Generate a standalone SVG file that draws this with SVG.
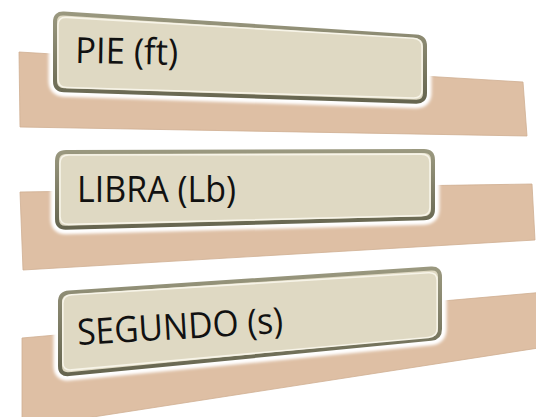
<svg xmlns="http://www.w3.org/2000/svg" width="536" height="417" viewBox="0 0 536 417">
  <defs>
    <filter id="glow" x="-10%" y="-30%" width="120%" height="160%">
      <feGaussianBlur stdDeviation="1.6"/>
    </filter>
    <linearGradient id="rim" x1="0" y1="0" x2="0" y2="1">
      <stop offset="0" stop-color="#9A987F"/>
      <stop offset="1" stop-color="#66654F"/>
    </linearGradient>
  </defs>
  <style>
    .band { fill: #DEBFA4; stroke: #CFAE92; stroke-width: 0.8; }
    .halo { fill: #FFFFFF; stroke: #FFFFFF; stroke-width: 13; stroke-linejoin: round; filter: url(#glow); }
    .rim { fill: #DFD9C3; stroke: url(#rim); stroke-width: 4; stroke-linejoin: round; }
    .face { fill: #DFD9C3; stroke: #F7F4E8; stroke-width: 1.6; vector-effect: non-scaling-stroke; }
    .label { font-family: "Open Sans", "Noto Sans", "Liberation Sans", sans-serif; font-size: 36px; fill: #111111; }
  </style>
  <rect width="536" height="417" fill="#FFFFFF"/>

  <g id="node-pie">
    <polygon class="band" points="19,52 523,82 527,136 20,127"/>
    <path class="halo" d="M55,22 Q55,13 64,13.6 L416,36.4 Q425,37 425,46 L425,93 Q425,102 416,101.7 L64,90.3 Q55,90 55,81 Z"/>
    <path class="rim" d="M55,22 Q55,13 64,13.6 L416,36.4 Q425,37 425,46 L425,93 Q425,102 416,101.7 L64,90.3 Q55,90 55,81 Z"/>
    <path class="face" transform="translate(240,58) scale(0.984,0.915) translate(-240,-58)" d="M55,22 Q55,13 64,13.6 L416,36.4 Q425,37 425,46 L425,93 Q425,102 416,101.7 L64,90.3 Q55,90 55,81 Z"/>
    <text class="label" x="75" y="63" textLength="103" lengthAdjust="spacingAndGlyphs" transform="rotate(1 75 63)">PIE (ft)</text>
  </g>

  <g id="node-libra">
    <polygon class="band" points="20,192 532,184 535,240 23,270"/>
    <path class="halo" d="M57,161 Q57,152 66,151.98 L424,151.02 Q433,151 433,160 L433,209 Q433,218 424,218.24 L66,227.76 Q57,228 57,219 Z"/>
    <path class="rim" d="M57,161 Q57,152 66,151.98 L424,151.02 Q433,151 433,160 L433,209 Q433,218 424,218.24 L66,227.76 Q57,228 57,219 Z"/>
    <path class="face" transform="translate(245,188) scale(0.984,0.915) translate(-245,-188)" d="M57,161 Q57,152 66,151.98 L424,151.02 Q433,151 433,160 L433,209 Q433,218 424,218.24 L66,227.76 Q57,228 57,219 Z"/>
    <text class="label" x="77" y="202" textLength="159" lengthAdjust="spacingAndGlyphs">LIBRA (Lb)</text>
  </g>

  <g id="node-segundo">
    <polygon class="band" points="22,338 545,292 545,347 22,428"/>
    <path class="halo" d="M60,302 Q60,293 68.98,292.41 L431.02,268.59 Q440,268 440,277 L440,329 Q440,338 431.04,338.87 L68.96,374.13 Q60,375 60,366 Z"/>
    <path class="rim" d="M60,302 Q60,293 68.98,292.41 L431.02,268.59 Q440,268 440,277 L440,329 Q440,338 431.04,338.87 L68.96,374.13 Q60,375 60,366 Z"/>
    <path class="face" transform="translate(250,321) scale(0.985,0.92) translate(-250,-321)" d="M60,302 Q60,293 68.98,292.41 L431.02,268.59 Q440,268 440,277 L440,329 Q440,338 431.04,338.87 L68.96,374.13 Q60,375 60,366 Z"/>
    <text class="label" x="78" y="345" textLength="206" lengthAdjust="spacingAndGlyphs" transform="rotate(-3.4 78 345)">SEGUNDO (s)</text>
  </g>

  <g id="connectors"/>
</svg>
